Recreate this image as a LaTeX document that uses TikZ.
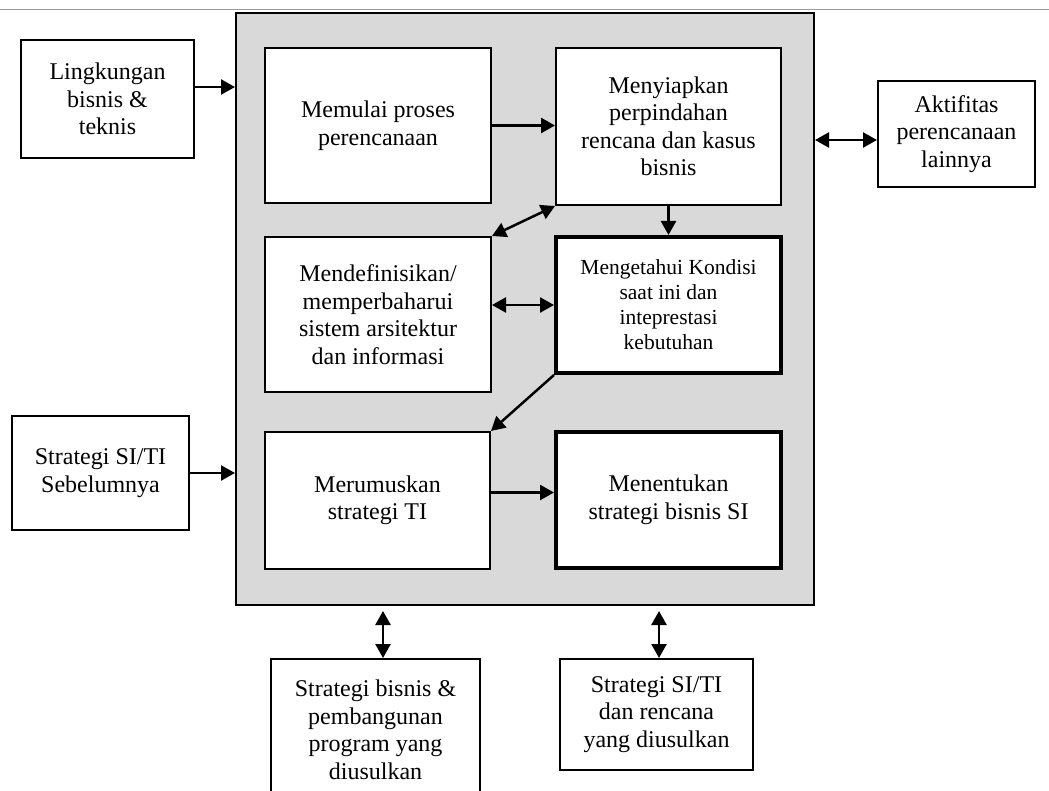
\documentclass[tikz,border=0pt]{standalone}
\usepackage{fontspec}
\setmainfont{Liberation Serif}
\usetikzlibrary{arrows.meta,calc}
\definecolor{panelgray}{HTML}{D9D9D9}
\definecolor{rulegray}{HTML}{9A9A9A}
\tikzset{
  box/.style={draw=black, line width=2pt, fill=white, inner sep=0pt, align=center,
    font=\fontsize{24}{27.5}\selectfont},
  boldbox/.style={box, line width=4pt},
  smallbox/.style={boldbox, font=\fontsize{21.5}{25}\selectfont},
  panel/.style={draw=black, line width=2pt, fill=panelgray, inner sep=0pt},
  tip/.style={Triangle[length=14pt,width=15pt]},
  flow/.style={line width=2.5pt, -{Triangle[length=14pt,width=15pt]}},
  both/.style={line width=2.5pt, {Triangle[length=14pt,width=15pt]}-{Triangle[length=14pt,width=15pt]}}
}
\begin{document}
\begin{tikzpicture}[x=1pt,y=1pt]
\clip (0,0) rectangle (1049,-791);
\fill[white] (0,0) rectangle (1049,-791);
% thin rule along the top edge
\draw[rulegray, line width=1.6pt] (0,-9.5) -- (1049,-9.5);

% central grey panel
\node[panel, minimum width=578, minimum height=592] (G) at (525,-309) {};

% process boxes inside the panel
\node[box, minimum width=226, minimum height=155] (A) at (378,-125.5)
  {Memulai proses\\perencanaan};
\node[box, minimum width=225, minimum height=157] (B) at (668.5,-126.5)
  {Menyiapkan\\perpindahan\\rencana dan kasus\\bisnis};
\node[box, minimum width=226, minimum height=155] (C) at (378,-314.5)
  {Mendefinisikan/\\memperbaharui\\sistem arsitektur\\dan informasi};
\node[smallbox, minimum width=225, minimum height=136] (D) at (668.5,-305)
  {Mengetahui Kondisi\\saat ini dan\\inteprestasi\\kebutuhan};
\node[box, minimum width=225, minimum height=137] (E) at (377.5,-500.5)
  {Merumuskan\\strategi TI};
\node[boldbox, minimum width=225, minimum height=136] (F) at (668.5,-500)
  {Menentukan\\strategi bisnis SI};

% inputs and outputs around the panel
\node[box, minimum width=173, minimum height=118] (L) at (107.5,-99)
  {Lingkungan\\bisnis \&\\teknis};
\node[box, minimum width=177, minimum height=114] (S) at (100.5,-473)
  {Strategi SI/TI\\Sebelumnya};
\node[box, minimum width=157, minimum height=106] (K) at (956.5,-134)
  {Aktifitas\\perencanaan\\lainnya};
\node[box, minimum width=209, minimum height=142] (P) at (375.5,-730)
  {Strategi bisnis \&\\pembangunan\\program yang\\diusulkan};
\node[box, minimum width=193, minimum height=111] (Q) at (656.5,-714.5)
  {Strategi SI/TI\\dan rencana\\yang diusulkan};

% connectors inside the panel
\draw[flow] (A.east) -- (A.east -| B.west);
\draw[flow] (B.south) -- (D.north);
\draw[both] (B.south west) -- (C.north east);
\draw[both] (D.west -| C.east) -- (D.west);
\draw[flow] (D.south west) -- (E.north east);
\coordinate (e1) at ([yshift=8pt]E.east);
\draw[flow] (e1) -- (e1 -| F.west);

% connectors to the panel
\coordinate (l1) at ([yshift=12pt]L.east);
\draw[flow] (l1) -- (l1 -| G.west);
\draw[flow] (S.east) -- (S.east -| G.west);
\coordinate (k1) at ([yshift=-6pt]K.west);
\draw[both] (k1 -| G.east) -- (k1);
\coordinate (p1) at ([xshift=7.5pt]P.north);
\draw[both] ($(p1 |- G.south)+(0,-5)$) -- (p1);
\coordinate (q1) at ([xshift=2.5pt]Q.north);
\draw[both] ($(q1 |- G.south)+(0,-5)$) -- (q1);
\end{tikzpicture}
\end{document}
